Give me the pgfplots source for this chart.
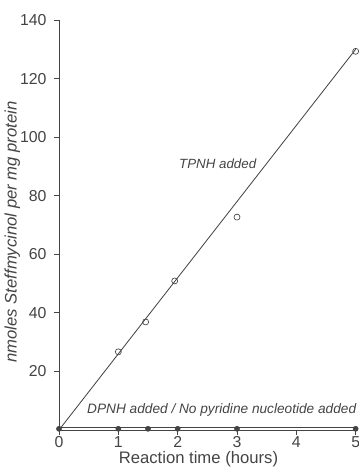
\documentclass[border=0pt]{standalone}
\usepackage{pgfplots}
\pgfplotsset{compat=1.18}
\usepackage{fontspec}
\setmainfont{Liberation Sans}
\definecolor{ink}{HTML}{444444}
\begin{document}
\begin{tikzpicture}
\begin{axis}[
  at={(0pt,0pt)}, anchor=south west,
  scale only axis,
  width=178pt, height=246pt,
  xmin=0, xmax=5, ymin=0, ymax=140,
  axis lines=left,
  axis line style={-, ink, line width=0.5pt},
  clip=false,
  xtick={0,1,2,3,4,5},
  ytick={20,40,60,80,100,120,140},
  /pgf/number format/assume math mode=true,
  tick label style={font=\fontsize{9.5}{11}\selectfont, text=ink},
  x tick label style={yshift=2.5pt},
  y tick label style={xshift=-1pt},
  tick style={ink, line width=0.5pt},
  major tick length=3pt,
  tick align=outside,
  every axis y label/.style={at={(axis description cs:0,0.483)}, xshift=-28pt, rotate=90, anchor=center, font=\fontsize{10}{12}\selectfont\itshape, text=ink},
  every axis x label/.style={at={(axis description cs:0.47,0)}, yshift=-17.5pt, anchor=center, font=\fontsize{10}{12}\selectfont, text=ink},
  ylabel={nmoles Steffmycinol per mg protein},
  xlabel={Reaction time (hours)},
]
% TPNH fitted line
\addplot[ink, line width=0.5pt] coordinates {(0,0) (5,130)};
% TPNH data (open circles)
\addplot[only marks, mark=o, mark size=1.8pt, mark options={ink, line width=0.4pt, fill=white}]
  coordinates {(1,26.7) (1.46,36.9) (1.95,50.9) (3,72.7) (5,129.3)};
% DPNH / no nucleotide: double line with filled dots
\addplot[ink, line width=0.5pt] coordinates {(0,0.8) (5,0.8)};
\addplot[only marks, mark=*, mark size=1.5pt, mark options={ink, fill=ink}]
  coordinates {(0,0.4) (1,0.4) (1.5,0.4) (2,0.4) (3,0.4) (5,0.4)};
\node[anchor=west, inner sep=0pt, text=ink, font=\fontsize{8}{10}\selectfont\itshape] at (axis cs:2.02,91) {TPNH added};
\node[anchor=west, inner sep=0pt, text=ink, font=\fontsize{8.2}{10}\selectfont\itshape] at (axis cs:0.47,6.8) {DPNH added / No pyridine nucleotide added};
\end{axis}
\pgfresetboundingbox
\useasboundingbox (-35.4pt,-22.2pt) rectangle (179.8pt,258pt);
\end{tikzpicture}
\end{document}
